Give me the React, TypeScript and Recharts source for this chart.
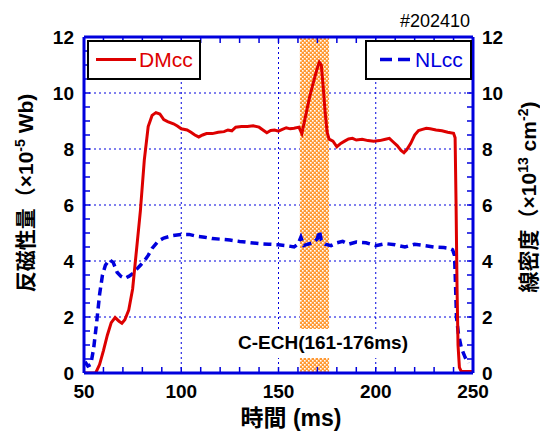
import React from 'react';
import {
  LineChart,
  Line,
  XAxis,
  YAxis,
  CartesianGrid,
  ReferenceArea,
} from 'recharts';

// 反磁性量 DMcc (×10^-5 Wb)
const dmTime = [
  50, 56, 58, 60, 62, 64, 66, 68, 69.5, 71, 73, 75, 77, 79, 81, 83, 85, 87, 89, 91, 93, 96, 98,
  100, 103, 105, 107, 109, 111, 113, 116, 119, 122, 124, 126, 128, 131, 134, 137, 140, 142, 144,
  146, 148, 150, 152, 154, 156, 158, 160.5, 162, 164, 166, 168, 170, 171, 172, 173, 174, 175, 176,
  178, 180, 182, 184, 186, 188, 190, 193, 196, 199, 202, 205, 207, 209, 211, 213, 214.5, 216, 218,
  220, 222, 224, 226, 228, 231, 234, 237, 240, 240.8, 241.3, 241.8, 242.3, 243, 244, 246, 250,
];
const dmValue = [
  0, 0, 0.3, 0.8, 1.35, 1.8, 1.98, 1.85, 1.78, 1.9, 2.25, 3.0, 4.4, 5.8, 7.6, 8.8, 9.2, 9.3, 9.25,
  9.05, 8.98, 8.9, 8.82, 8.72, 8.68, 8.6, 8.5, 8.43, 8.5, 8.55, 8.55, 8.6, 8.62, 8.68, 8.65, 8.78,
  8.8, 8.8, 8.83, 8.78, 8.68, 8.58, 8.66, 8.68, 8.64, 8.7, 8.76, 8.72, 8.74, 8.78, 8.55, 9.2, 9.85,
  10.4, 10.9, 11.1, 11.0, 10.2, 9.3, 8.6, 8.35, 8.28, 8.08, 8.2, 8.28, 8.36, 8.38, 8.32, 8.35, 8.3,
  8.28, 8.3, 8.35, 8.38, 8.25, 8.12, 7.95, 7.87, 7.98, 8.2, 8.5, 8.66, 8.7, 8.74, 8.72, 8.68, 8.65,
  8.6, 8.56, 8.4, 6, 3, 1, 0.2, 0.05, 0.05, 0.05,
];

// 線密度 NLcc (×10^13 cm^-2)
const nlTime = [
  50.5, 52, 53.5, 55, 56.5, 58, 59.5, 61, 63, 65, 67, 69, 71, 73, 75, 77, 79, 81, 83, 85, 88, 91,
  95, 100, 104, 108, 112, 116, 120, 125, 130, 135, 140, 145, 150, 154, 158, 160, 161.5, 163, 165,
  168, 170, 171, 172, 174, 177, 180, 183, 186, 190, 195, 200, 205, 210, 215, 220, 225, 230, 235,
  238, 239.5, 240.5, 241, 241.5, 242.5, 244, 246, 247.5,
];
const nlValue = [
  0.4, 0.25, 0.3, 0.9, 1.8, 2.8, 3.5, 3.85, 4.05, 3.95, 3.6, 3.45, 3.38, 3.45, 3.55, 3.7, 3.85, 4.0,
  4.2, 4.45, 4.7, 4.82, 4.9, 4.95, 4.95, 4.88, 4.85, 4.8, 4.78, 4.75, 4.7, 4.66, 4.62, 4.6, 4.58,
  4.55, 4.5, 4.6, 4.85, 4.55, 4.6, 4.65, 4.8, 5.08, 4.75, 4.6, 4.55, 4.65, 4.7, 4.6, 4.68, 4.65,
  4.55, 4.62, 4.58, 4.5, 4.6, 4.55, 4.5, 4.48, 4.45, 4.4, 4.2, 3.2, 2.0, 1.4, 0.9, 0.55, 0.35,
];

const xTicks = [
  50, 60, 70, 80, 90, 100, 110, 120, 130, 140, 150, 160, 170, 180, 190, 200, 210, 220, 230, 240, 250,
];
const yTicks = [
  0, 0.5, 1, 1.5, 2, 2.5, 3, 3.5, 4, 4.5, 5, 5.5, 6, 6.5, 7, 7.5, 8, 8.5, 9, 9.5, 10, 10.5, 11,
  11.5, 12,
];
const xGrid = [100, 150, 200];
const yGrid = [2, 4, 6, 8, 10];
const echRange = [161, 176];

const dmData = dmTime.map((t, i) => ({ t, v: dmValue[i] }));
const nlData = nlTime.map((t, i) => ({ t, v: nlValue[i] }));

const BLUE = '#0000DD';
const RED = '#DD0000';
const FONT = "'Liberation Sans', Arial, 'Noto Sans CJK JP', sans-serif";

const tickStyle = { fill: '#000', fontSize: 19, fontWeight: 'bold' as const };
const xFmt = (v: number) => (v % 50 === 0 ? String(v) : '');
const yFmt = (v: number) => (v % 2 === 0 ? String(v) : '');
const blank = () => '';

// legends, titles and the ECH note sit in an svg laid over the chart
function Overlay() {
  return (
    <svg
      width={540}
      height={433}
      style={{ position: 'absolute', left: 0, top: 0, pointerEvents: 'none', fontFamily: FONT }}
    >
      <rect x={88} y={41} width={112} height={38} fill="#fff" stroke="#000" strokeWidth={2} />
      <line x1={96} y1={59.5} x2={136} y2={59.5} stroke={RED} strokeWidth={3} />
      <text x={139} y={67} fontSize={21} fill={RED}>DMcc</text>
      <rect x={366} y={41} width={105} height={38} fill="#fff" stroke="#000" strokeWidth={2} />
      <line x1={380} y1={59.5} x2={410} y2={59.5} stroke={BLUE} strokeWidth={3.5} strokeDasharray="12 6" />
      <text x={415} y={67} fontSize={21} fill={BLUE}>NLcc</text>
      <text x={470} y={27} fontSize={18} fill="#000" textAnchor="end">#202410</text>
      <rect x={232} y={329} width={186} height={29} fill="#fff" />
      <text x={323} y={349} fontSize={19} fontWeight="bold" fill="#000" textAnchor="middle">
        C-ECH(161-176ms)
      </text>
      <text x={291} y={426} fontSize={23} fontWeight="bold" fill="#000" textAnchor="middle">
        時間 (ms)
      </text>
      <text
        x={0}
        y={0}
        fontSize={21}
        fontWeight="bold"
        fill="#000"
        textAnchor="middle"
        transform="translate(33 193) rotate(-90)"
      >
        反磁性量（×10<tspan dy={-8} fontSize={14}>-5</tspan>
        <tspan dy={8}> Wb)</tspan>
      </text>
      <text
        x={0}
        y={0}
        fontSize={21}
        fontWeight="bold"
        fill="#000"
        textAnchor="middle"
        transform="translate(536 197) rotate(-90)"
      >
        線密度（×10<tspan dy={-8} fontSize={14}>13</tspan>
        <tspan dy={8}> cm</tspan>
        <tspan dy={-8} fontSize={14}>-2</tspan>
        <tspan dy={8}>)</tspan>
      </text>
    </svg>
  );
}

export default function App() {
  return (
    <div style={{ position: 'absolute', left: 0, top: 0, width: 540, height: 433, background: '#fff', fontFamily: FONT }}>
      <LineChart width={540} height={433} margin={{ top: 36, right: 0, bottom: 0, left: 0 }}>
        <defs>
          <pattern id="hatch" width="4" height="4" patternUnits="userSpaceOnUse">
            <rect x="0" y="0" width="4" height="4" fill="#FF9933" />
            <rect x="0" y="0" width="1.6" height="1.6" fill="#FFFFFF" />
            <rect x="2" y="2" width="1.6" height="1.6" fill="#FFFFFF" />
          </pattern>
        </defs>
        <CartesianGrid
          xAxisId="b"
          yAxisId="l"
          verticalValues={xGrid}
          horizontalValues={yGrid}
          stroke={BLUE}
          strokeDasharray="2 3"
          strokeWidth={1}
        />
        <XAxis
          xAxisId="b"
          dataKey="t"
          type="number"
          domain={[50, 250]}
          ticks={xTicks}
          tickFormatter={xFmt}
          height={60}
          axisLine={{ stroke: BLUE, strokeWidth: 3 }}
          tickLine={{ stroke: BLUE, strokeWidth: 1.5 }}
          tickSize={-6}
          tickMargin={18}
          tick={tickStyle}
          interval={0}
          allowDataOverflow
        />
        <XAxis
          xAxisId="t"
          orientation="top"
          dataKey="t"
          type="number"
          domain={[50, 250]}
          ticks={xTicks}
          tickFormatter={blank}
          height={1}
          axisLine={{ stroke: BLUE, strokeWidth: 3 }}
          tickLine={{ stroke: BLUE, strokeWidth: 1.5 }}
          tickSize={-6}
          interval={0}
          allowDataOverflow
        />
        <YAxis
          yAxisId="l"
          domain={[0, 12]}
          ticks={yTicks}
          tickFormatter={yFmt}
          width={84}
          axisLine={{ stroke: BLUE, strokeWidth: 3 }}
          tickLine={{ stroke: BLUE, strokeWidth: 1.5 }}
          tickSize={-6}
          tickMargin={16}
          tick={tickStyle}
          interval={0}
          allowDataOverflow
        />
        <YAxis
          yAxisId="r"
          orientation="right"
          domain={[0, 12]}
          ticks={yTicks}
          tickFormatter={yFmt}
          width={67}
          axisLine={{ stroke: BLUE, strokeWidth: 3 }}
          tickLine={{ stroke: BLUE, strokeWidth: 1.5 }}
          tickSize={-6}
          tickMargin={15}
          tick={tickStyle}
          interval={0}
          allowDataOverflow
        />
        <ReferenceArea
          xAxisId="b"
          yAxisId="l"
          x1={echRange[0]}
          x2={echRange[1]}
          fill="url(#hatch)"
          fillOpacity={1}
          stroke="none"
        />
        <Line
          xAxisId="b"
          yAxisId="r"
          data={nlData}
          dataKey="v"
          type="linear"
          stroke={BLUE}
          strokeWidth={3.5}
          strokeDasharray="8 5"
          dot={false}
          isAnimationActive={false}
        />
        <Line
          xAxisId="b"
          yAxisId="l"
          data={dmData}
          dataKey="v"
          type="linear"
          stroke={RED}
          strokeWidth={3}
          dot={false}
          isAnimationActive={false}
        />
      </LineChart>
      <Overlay />
    </div>
  );
}
